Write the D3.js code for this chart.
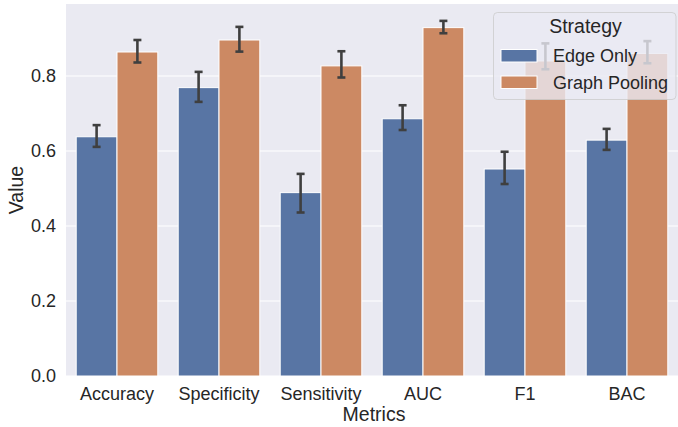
<!DOCTYPE html>
<html>
<head>
<meta charset="utf-8">
<script src="https://cdn.jsdelivr.net/npm/d3@7"></script>
<style>
  body { margin: 0; background: #fff; }
  svg text { font-family: "Liberation Sans", Arial, sans-serif; fill: #262626; }
</style>
</head>
<body>
<div class="vis"></div>
<script>
// data
const metrics = ["Accuracy", "Specificity", "Sensitivity", "AUC", "F1", "BAC"];
const strategies = ["Edge Only", "Graph Pooling"];
const edgeOnly = [0.638, 0.769, 0.489, 0.686, 0.552, 0.629];
const edgeLow = [0.611, 0.731, 0.436, 0.656, 0.512, 0.603];
const edgeHigh = [0.669, 0.811, 0.539, 0.722, 0.598, 0.659];
const graphPooling = [0.864, 0.896, 0.827, 0.929, 0.840, 0.860];
const poolLow = [0.836, 0.865, 0.796, 0.914, 0.818, 0.834];
const poolHigh = [0.896, 0.931, 0.866, 0.947, 0.887, 0.893];
const yTicks = [0.0, 0.2, 0.4, 0.6, 0.8];
const colors = ["#5875a4", "#cc8963"];

const W = 678, H = 427;
const m = { l: 66, r: 0, t: 4, b: 51 };
const w = W - m.l - m.r, h = H - m.t - m.b;

const rows = [];
metrics.forEach((k, i) => {
    rows.push({ metric: k, strategy: strategies[0], v: edgeOnly[i], lo: edgeLow[i], hi: edgeHigh[i] });
    rows.push({ metric: k, strategy: strategies[1], v: graphPooling[i], lo: poolLow[i], hi: poolHigh[i] });
});

const svg = d3.select(".vis").append("svg")
    .attr("width", W).attr("height", H);
const g = svg.append("g").attr("transform", `translate(${m.l}, ${m.t})`);

const x = d3.scaleBand().domain(metrics).range([0, w]).padding(0);
const xs = d3.scaleBand().domain(strategies)
    .range([x.bandwidth() * 0.1, x.bandwidth() * 0.9]).padding(0);
const y = d3.scaleLinear().domain([0, 0.992]).range([h, 0]);
const color = d3.scaleOrdinal().domain(strategies).range(colors);

g.append("rect").attr("width", w).attr("height", h).attr("fill", "#eaeaf2");

// grid
g.append("g").selectAll("line").data(yTicks).join("line")
    .attr("x1", 0).attr("x2", w)
    .attr("y1", d => y(d)).attr("y2", d => y(d))
    .attr("stroke", "#fff").attr("stroke-width", 1.2);

// bars
g.append("g").selectAll("rect").data(rows).join("rect")
    .attr("x", d => x(d.metric) + xs(d.strategy))
    .attr("y", d => y(d.v))
    .attr("width", xs.bandwidth())
    .attr("height", d => h - y(d.v))
    .attr("fill", d => color(d.strategy))
    .attr("stroke", "#fff").attr("stroke-width", 1);

// error bars
const eb = g.append("g").attr("stroke", "#3f3f3f").attr("stroke-width", 2.6);
rows.forEach(d => {
    const cx = x(d.metric) + xs(d.strategy) + xs.bandwidth() / 2;
    eb.append("line").attr("x1", cx).attr("x2", cx).attr("y1", y(d.lo)).attr("y2", y(d.hi));
    eb.append("line").attr("x1", cx - 4).attr("x2", cx + 4).attr("y1", y(d.lo)).attr("y2", y(d.lo));
    eb.append("line").attr("x1", cx - 4).attr("x2", cx + 4).attr("y1", y(d.hi)).attr("y2", y(d.hi));
});

// axes
const xa = g.append("g").attr("transform", `translate(0, ${h})`)
    .call(d3.axisBottom(x).tickSize(0).tickPadding(11));
xa.select(".domain").remove();
xa.selectAll("text").style("font-size", "18px").attr("fill", "#262626");

const ya = g.append("g")
    .call(d3.axisLeft(y).tickValues(yTicks).tickFormat(d3.format(".1f")).tickSize(0).tickPadding(10));
ya.select(".domain").remove();
ya.selectAll("text").style("font-size", "18px").attr("fill", "#262626");

svg.append("text").attr("x", 374).attr("y", 421)
    .attr("text-anchor", "middle").style("font-size", "19.5px").text("Metrics");
svg.append("text").attr("transform", `translate(23, ${m.t + h / 2}) rotate(-90)`)
    .attr("text-anchor", "middle").style("font-size", "19.5px").text("Value");

// legend
const lg = svg.append("g").attr("transform", "translate(493.5, 12.5)");
lg.append("rect").attr("width", 182.5).attr("height", 87).attr("rx", 4)
    .attr("fill", "#eaeaf2").attr("fill-opacity", 0.8)
    .attr("stroke", "#cccccc").attr("stroke-opacity", 0.8);
lg.append("text").attr("x", 92).attr("y", 20).attr("text-anchor", "middle")
    .style("font-size", "19.5px").text("Strategy");
strategies.forEach((s, i) => {
    const yy = 37 + i * 26.5;
    lg.append("rect").attr("x", 7.5).attr("y", yy).attr("width", 36).attr("height", 12.5)
        .attr("fill", color(s)).attr("stroke", "#fff").attr("stroke-width", 1);
    lg.append("text").attr("x", 59.5).attr("y", yy + 12.5)
        .style("font-size", "18px").text(s);
});
</script>
</body>
</html>
